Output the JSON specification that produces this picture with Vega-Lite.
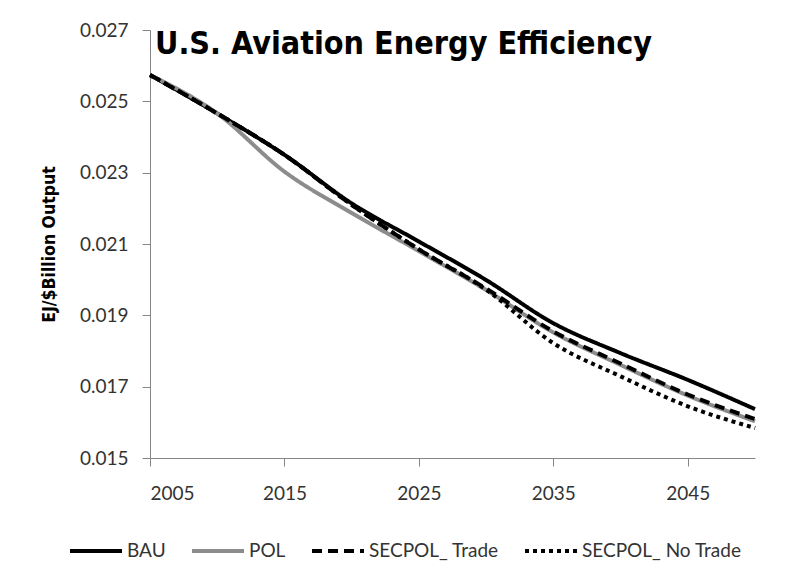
{
  "$schema": "https://vega.github.io/schema/vega-lite/v6.json",
  "width": 605,
  "height": 428,
  "autosize": {"type": "none"},
  "padding": {"left": 150, "top": 30, "right": 35, "bottom": 123},
  "background": "white",
  "config": {
    "view": {"stroke": null},
    "axis": {"grid": false, "domainColor": "#868686", "tickColor": "#868686", "domainWidth": 1, "tickWidth": 1, "labelFont": "Lato", "labelFontSize": 19, "labelColor": "#333333"}
  },
  "title": {
    "text": "U.S. Aviation Energy Efficiency",
    "anchor": "start",
    "frame": "group",
    "orient": "top",
    "offset": -40,
    "dx": 5,
    "font": "DejaVu Sans Condensed",
    "fontWeight": "bold",
    "fontSize": 32,
    "color": "black"
  },
  "data": {
    "values": [
      {"year": 2005, "series": "BAU", "value": 0.02574},
      {"year": 2010, "series": "BAU", "value": 0.02466},
      {"year": 2015, "series": "BAU", "value": 0.02350},
      {"year": 2020, "series": "BAU", "value": 0.02214},
      {"year": 2025, "series": "BAU", "value": 0.02107},
      {"year": 2030, "series": "BAU", "value": 0.01999},
      {"year": 2035, "series": "BAU", "value": 0.01878},
      {"year": 2040, "series": "BAU", "value": 0.01794},
      {"year": 2045, "series": "BAU", "value": 0.01719},
      {"year": 2050, "series": "BAU", "value": 0.01637},
      {"year": 2005, "series": "POL", "value": 0.02574},
      {"year": 2010, "series": "POL", "value": 0.02466},
      {"year": 2015, "series": "POL", "value": 0.02303},
      {"year": 2020, "series": "POL", "value": 0.02187},
      {"year": 2025, "series": "POL", "value": 0.02080},
      {"year": 2030, "series": "POL", "value": 0.01971},
      {"year": 2035, "series": "POL", "value": 0.01852},
      {"year": 2040, "series": "POL", "value": 0.01761},
      {"year": 2045, "series": "POL", "value": 0.01675},
      {"year": 2050, "series": "POL", "value": 0.01603},
      {"year": 2005, "series": "SECPOL_ Trade", "value": 0.02574},
      {"year": 2010, "series": "SECPOL_ Trade", "value": 0.02466},
      {"year": 2015, "series": "SECPOL_ Trade", "value": 0.02350},
      {"year": 2020, "series": "SECPOL_ Trade", "value": 0.02210},
      {"year": 2025, "series": "SECPOL_ Trade", "value": 0.02085},
      {"year": 2030, "series": "SECPOL_ Trade", "value": 0.01975},
      {"year": 2035, "series": "SECPOL_ Trade", "value": 0.01855},
      {"year": 2040, "series": "SECPOL_ Trade", "value": 0.01765},
      {"year": 2045, "series": "SECPOL_ Trade", "value": 0.01678},
      {"year": 2050, "series": "SECPOL_ Trade", "value": 0.01609},
      {"year": 2005, "series": "SECPOL_ No Trade", "value": 0.02574},
      {"year": 2010, "series": "SECPOL_ No Trade", "value": 0.02466},
      {"year": 2015, "series": "SECPOL_ No Trade", "value": 0.02350},
      {"year": 2020, "series": "SECPOL_ No Trade", "value": 0.02210},
      {"year": 2025, "series": "SECPOL_ No Trade", "value": 0.02085},
      {"year": 2030, "series": "SECPOL_ No Trade", "value": 0.01972},
      {"year": 2035, "series": "SECPOL_ No Trade", "value": 0.01822},
      {"year": 2040, "series": "SECPOL_ No Trade", "value": 0.01729},
      {"year": 2045, "series": "SECPOL_ No Trade", "value": 0.01645},
      {"year": 2050, "series": "SECPOL_ No Trade", "value": 0.01584}
    ]
  },
  "mark": {"type": "line", "interpolate": "monotone", "strokeWidth": 4},
  "encoding": {
    "x": {
      "field": "year", "type": "quantitative",
      "scale": {"domain": [2005, 2050], "nice": false, "zero": false},
      "axis": {"values": [2005, 2015, 2025, 2035, 2045], "format": "d", "title": null, "tickSize": 8, "labelPadding": 18}
    },
    "y": {
      "field": "value", "type": "quantitative",
      "scale": {"domain": [0.015, 0.027], "nice": false, "zero": false},
      "axis": {"values": [0.015, 0.017, 0.019, 0.021, 0.023, 0.025, 0.027], "format": ".3f", "title": "EJ/$Billion Output", "titleFont": "DejaVu Sans Condensed", "titleFontWeight": "bold", "titleFontSize": 17.5, "titleColor": "black", "titlePadding": 21, "tickSize": 8, "labelPadding": 14}
    },
    "color": {
      "field": "series", "type": "nominal",
      "sort": ["BAU", "POL", "SECPOL_ Trade", "SECPOL_ No Trade"],
      "scale": {"domain": ["BAU", "POL", "SECPOL_ Trade", "SECPOL_ No Trade"], "range": ["#000000", "#8c8c8c", "#000000", "#000000"]},
      "legend": {
        "orient": "none", "legendX": -82, "legendY": 493, "direction": "horizontal", "columns": 4,
        "title": null, "symbolType": "stroke", "symbolSize": 2700, "symbolStrokeWidth": 4,
        "labelFont": "Lato", "labelFontSize": 19, "labelColor": "#333333", "labelLimit": 300, "columnPadding": 18, "labelOffset": 3
      }
    },
    "strokeDash": {
      "field": "series", "type": "nominal",
      "sort": ["BAU", "POL", "SECPOL_ Trade", "SECPOL_ No Trade"],
      "scale": {"domain": ["BAU", "POL", "SECPOL_ Trade", "SECPOL_ No Trade"], "range": [[1, 0], [1, 0], [10, 6], [4, 4]]},
      "legend": {
        "orient": "none", "legendX": -82, "legendY": 493, "direction": "horizontal", "columns": 4,
        "title": null, "symbolType": "stroke", "symbolSize": 2700, "symbolStrokeWidth": 4,
        "labelFont": "Lato", "labelFontSize": 19, "labelColor": "#333333", "labelLimit": 300, "columnPadding": 18, "labelOffset": 3
      }
    },
    "order": {"field": "series", "sort": "ascending"}
  }
}
